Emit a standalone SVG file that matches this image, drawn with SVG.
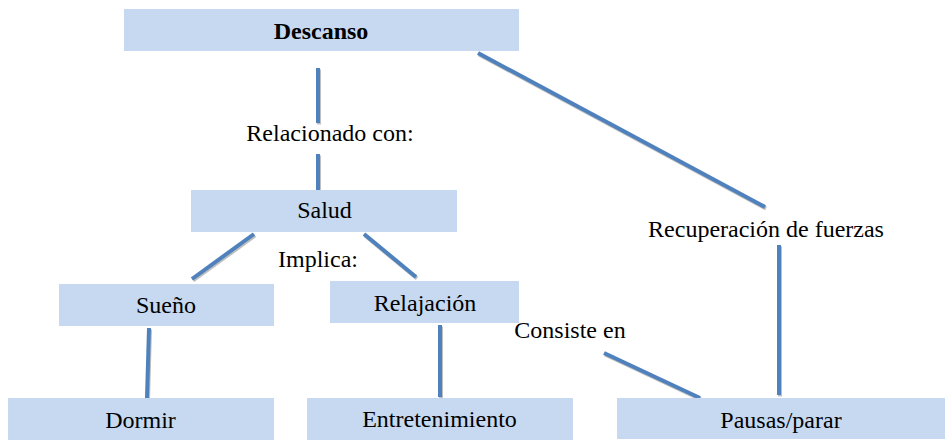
<svg xmlns="http://www.w3.org/2000/svg" width="952" height="447" viewBox="0 0 952 447">
<style>
.box{fill:#C6D9F1}
.t{font-family:'Liberation Serif','Times New Roman',serif;font-size:24px;fill:#000;text-anchor:middle}
.b{font-weight:bold}
.ln{stroke:#4F81BD;stroke-width:4;fill:none}
.sh{stroke:#BFBFBF;stroke-width:4;fill:none}
</style>
<rect width="952" height="447" fill="#fff"/>
<g id="connectors">
<g transform="translate(1,1.5)">
<line class="sh" x1="318" y1="68" x2="318" y2="123"/>
<line class="sh" x1="318" y1="154" x2="318" y2="190"/>
<line class="sh" x1="478" y1="53" x2="765" y2="207"/>
<line class="sh" x1="254" y1="234" x2="192" y2="279"/>
<line class="sh" x1="364" y1="234" x2="416" y2="277"/>
<line class="sh" x1="149" y1="328" x2="147" y2="398"/>
<line class="sh" x1="440" y1="325" x2="440" y2="397"/>
<line class="sh" x1="604" y1="353" x2="700" y2="398"/>
<line class="sh" x1="779" y1="245" x2="779" y2="395"/>
</g>
<line class="ln" x1="318" y1="68" x2="318" y2="123"/>
<line class="ln" x1="318" y1="154" x2="318" y2="190"/>
<line class="ln" x1="478" y1="53" x2="765" y2="207"/>
<line class="ln" x1="254" y1="234" x2="192" y2="279"/>
<line class="ln" x1="364" y1="234" x2="416" y2="277"/>
<line class="ln" x1="149" y1="328" x2="147" y2="398"/>
<line class="ln" x1="440" y1="325" x2="440" y2="397"/>
<line class="ln" x1="604" y1="353" x2="700" y2="398"/>
<line class="ln" x1="779" y1="245" x2="779" y2="395"/>
</g>
<g id="descanso"><rect class="box" x="124" y="9" width="395" height="42"/><text class="t b" x="321" y="39">Descanso</text></g>
<g id="label-relacionado"><text class="t" x="330" y="141">Relacionado con:</text></g>
<g id="salud"><rect class="box" x="191" y="190" width="266" height="42"/><text class="t" x="324.5" y="218">Salud</text></g>
<g id="label-implica"><text class="t" x="318" y="267">Implica:</text></g>
<g id="recuperacion"><text class="t" x="766" y="237">Recuperación de fuerzas</text></g>
<g id="sueno"><rect class="box" x="59" y="284" width="215" height="42"/><text class="t" x="166" y="313">Sueño</text></g>
<g id="relajacion"><rect class="box" x="330" y="281" width="189" height="42"/><text class="t" x="425" y="311">Relajación</text></g>
<g id="label-consiste"><text class="t" x="570" y="338">Consiste en</text></g>
<g id="dormir"><rect class="box" x="8" y="398" width="266" height="42"/><text class="t" x="140.5" y="428">Dormir</text></g>
<g id="entretenimiento"><rect class="box" x="307" y="398" width="266" height="42"/><text class="t" x="439.5" y="427">Entretenimiento</text></g>
<g id="pausas"><rect class="box" x="617" y="398" width="328" height="41"/><text class="t" x="781" y="428">Pausas/parar</text></g>
</svg>
